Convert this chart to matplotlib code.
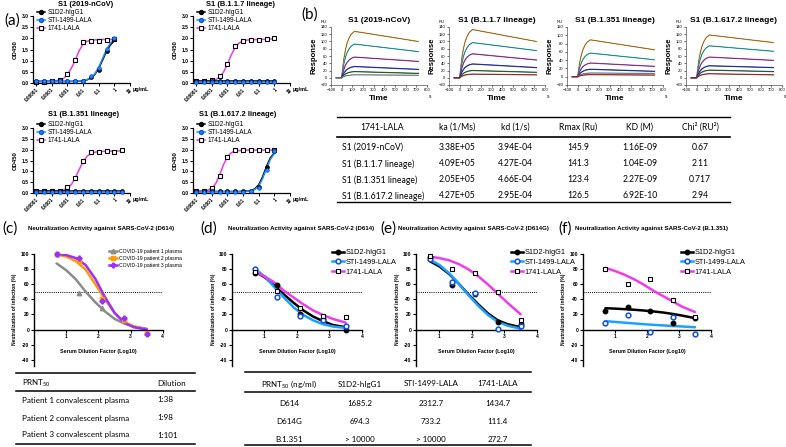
import numpy as np
import matplotlib
matplotlib.use("Agg")
import matplotlib.pyplot as plt
from matplotlib.lines import Line2D

plt.rcParams['font.family'] = ['Liberation Sans', 'DejaVu Sans']
plt.rcParams['mathtext.fontset'] = 'custom'
plt.rcParams['mathtext.rm'] = 'Lato'
plt.rcParams['mathtext.it'] = 'Lato'

# ---------------- data: panel (a) ELISA ----------------
ELISA_CONC = [1e-5, 3.16e-5, 1e-4, 3.16e-4, 1e-3, 3.16e-3, 1e-2, 3.16e-2, 0.1, 0.316, 1.0, 3.16]
ELISA_TITLES = ["S1 (2019-nCoV)", "S1 (B.1.1.7 lineage)", "S1 (B.1.351 lineage)", "S1 (B.1.617.2 lineage)"]
ELISA_XTICKS = [1e-5, 1e-4, 1e-3, 1e-2, 1e-1, 1, 10]
ELISA_XTICKLABELS = ["0.00001", "0.0001", "0.001", "0.01", "0.1", "1", "10"]
ELISA_SERIES = ["S1D2-hIgG1", "STI-1499-LALA", "1741-LALA"]

# points
A1_S1D2 = [0.07, 0.07, 0.07, 0.07, 0.07, 0.07, 0.08, 0.26, 0.58, 1.45, 1.95]
A1_STI = [0.07, 0.07, 0.07, 0.07, 0.07, 0.08, 0.08, 0.30, 0.65, 1.52, 2.03]
A1_1741 = [0.05, 0.06, 0.08, 0.15, 0.41, 1.04, 1.83, 1.90, 1.88, 1.93, 1.95]
A2_S1D2 = [0.08, 0.07, 0.07, 0.07, 0.07, 0.07, 0.07, 0.07, 0.07, 0.07, 0.08]
A2_STI = [0.06, 0.06, 0.06, 0.06, 0.06, 0.06, 0.06, 0.06, 0.06, 0.06, 0.06]
A2_1741 = [0.07, 0.07, 0.12, 0.30, 0.84, 1.64, 1.90, 1.93, 1.93, 1.95, 2.00]
A3_S1D2 = [0.08, 0.08, 0.08, 0.08, 0.08, 0.08, 0.08, 0.08, 0.08, 0.08, 0.08, 0.08]
A3_STI = [0.06, 0.06, 0.06, 0.06, 0.06, 0.06, 0.06, 0.06, 0.06, 0.06, 0.06, 0.06]
A3_1741 = [0.07, 0.07, 0.08, 0.10, 0.28, 0.69, 1.48, 1.89, 1.89, 1.92, 1.89, 1.98]
A4_S1D2 = [0.07, 0.07, 0.07, 0.07, 0.07, 0.07, 0.07, 0.08, 0.30, 1.20, 1.92]
A4_STI = [0.06, 0.06, 0.06, 0.06, 0.06, 0.06, 0.06, 0.07, 0.22, 1.05, 1.95]
A4_1741 = [0.07, 0.10, 0.22, 0.77, 1.66, 1.98, 1.97, 1.98, 1.98, 1.98, 1.99]

# fitted curves, read at half-dilution steps (flat fits given by two ends)
A1_S1D2_FIT = [0.07] * 10 + [0.08, 0.08, 0.10, 0.14, 0.22, 0.38, 0.66, 1.03, 1.42, 1.71, 1.89]
A1_STI_FIT = [0.07] * 10 + [0.08, 0.09, 0.11, 0.15, 0.24, 0.41, 0.71, 1.10, 1.50, 1.79, 1.96]
A1_1741_FIT = [0.08, 0.08, 0.08, 0.08, 0.09, 0.10, 0.13, 0.20, 0.38, 0.66, 1.02, 1.45, 1.74, 1.87,
               1.91, 1.93, 1.94, 1.95, 1.95, 1.95, 1.95]
A2_S1D2_FIT = [0.07, 0.07]
A2_STI_FIT = [0.06, 0.06]
A2_1741_FIT = [0.07, 0.07, 0.08, 0.08, 0.10, 0.15, 0.26, 0.48, 0.84, 1.26, 1.60, 1.79, 1.88, 1.92,
               1.94, 1.94, 1.95, 1.95, 1.96, 1.97, 1.98]
A3_S1D2_FIT = [0.08, 0.08]
A3_STI_FIT = [0.06, 0.06]
A3_1741_FIT = [0.07, 0.07, 0.07, 0.07, 0.07, 0.08, 0.10, 0.14, 0.22, 0.39, 0.69, 1.08, 1.44, 1.69,
               1.82, 1.88, 1.91, 1.92, 1.93, 1.93, 1.94, 1.94, 1.95]
A4_S1D2_FIT = [0.07] * 12 + [0.08, 0.09, 0.11, 0.19, 0.38, 0.75, 1.23, 1.63, 1.85]
A4_STI_FIT = [0.06] * 12 + [0.07, 0.08, 0.10, 0.16, 0.32, 0.66, 1.13, 1.56, 1.82]
A4_1741_FIT = [0.07, 0.08, 0.09, 0.13, 0.22, 0.43, 0.83, 1.31, 1.67, 1.86, 1.94, 1.96, 1.97, 1.98,
               1.98, 1.98, 1.98, 1.98, 1.98, 1.98, 1.98]

# ---------------- data: panel (b) SPR ----------------
SPR_TITLES = ["S1 (2019-nCoV)", "S1 (B.1.1.7 lineage)", "S1 (B.1.351 lineage)", "S1 (B.1.617.2 lineage)"]
SPR_YMAX = [140, 140, 120, 140]
SPR_PEAK = [[128, 93, 57, 31, 17, 8],
            [133, 97, 66, 38, 20, 10],
            [89, 57, 33, 18, 9, 5],
            [118, 88, 57, 33, 21, 11]]
SPR_END = [[100, 72, 45, 23, 12, 7],
           [100, 75, 49, 28, 15, 8],
           [65, 41, 25, 13, 8, 4],
           [97, 73, 48, 28, 17, 8]]
SPR_ASSOC_T = [0, 10, 20, 35, 50, 70, 90, 120]
SPR_ASSOC_FRAC = [0, 0.22, 0.40, 0.60, 0.74, 0.86, 0.94, 1.0]
SPR_BASE_T = [-50, 0]
SPR_END_T = 720
SPR_COLORS = [["#E8A030", "#30C8D0", "#B83CB8", "#2030C8", "#207838", "#A8A8A8"],
              ["#E8A030", "#30C8D0", "#B83CB8", "#2030C8", "#207838", "#C83030"],
              ["#E8A030", "#30C8D0", "#B83CB8", "#2030C8", "#A8A8A8", "#C83030"],
              ["#E8A030", "#30C8D0", "#B83CB8", "#2030C8", "#207838", "#C83030"]]

KIN_HEAD = ["1741-LALA", "ka (1/Ms)", "kd (1/s)", "Rmax (Ru)", "KD (M)", "Chi² (RU²)"]
KIN_ROWS = ["S1 (2019-nCoV)", "S1 (B.1.1.7 lineage)", "S1 (B.1.351 lineage)", "S1 (B.1.617.2 lineage)"]
KIN_KA = ["3.38E+05", "4.09E+05", "2.05E+05", "4.27E+05"]
KIN_KD = ["3.94E-04", "4.27E-04", "4.66E-04", "2.95E-04"]
KIN_RMAX = ["145.9", "141.3", "123.4", "126.5"]
KIN_KDM = ["1.16E-09", "1.04E-09", "2.27E-09", "6.92E-10"]
KIN_CHI2 = ["0.67", "2.11", "0.717", "2.94"]

# ---------------- data: panels (c)-(f) neutralization ----------------
DIL_LOG = [0.7, 1.4, 2.1, 2.8, 3.5]
FIT_LOG = [0.7, 1.0, 1.3, 1.6, 1.9, 2.2, 2.5, 2.8, 3.1, 3.5]

C_LABELS = ["COVID-19 patient 1 plasma", "COVID-19 patient 2 plasma", "COVID-19 patient 3 plasma"]
C_P1 = [99, 48, 28, 12, -5]
C_P2 = [100, 90, 40, 13, -5]
C_P3 = [99, 94, 37, 15, -6]
C_P1_FIT = [87, 78, 66, 50, 36, 24, 14, 8, 4, 1]
C_P2_FIT = [99, 96, 90, 79, 60, 40, 22, 10, 4, 0]
C_P3_FIT = [100, 98, 94, 85, 67, 43, 22, 9, 3, 0]

D_S1D2 = [74, 59, 20, 14, 0]
D_STI = [80, 43, 18, 13, 4]
D_1741 = [76, 51, 28, 18, 17]
D_S1D2_FIT = [76, 69, 58, 46, 35, 25, 17, 11, 6, 3]
D_STI_FIT = [80, 70, 56, 42, 29, 19, 12, 7, 4, 2]
D_1741_FIT = [76, 70, 62, 51, 42, 33, 25, 19, 14, 9]

E_S1D2 = [95, 59, 47, 10, 7]
E_STI = [93, 62, 48, 1, 5]
E_1741 = [97, 80, 75, 49, 12]
E_S1D2_FIT = [90, 83, 73, 60, 46, 33, 21, 12, 7, 3]
E_STI_FIT = [92, 85, 74, 60, 45, 31, 19, 10, 5, 1]
E_1741_FIT = [96, 94, 91, 86, 79, 70, 59, 47, 35, 20]

F_S1D2 = [24, 29, 24, 9, 15]
F_STI = [9, 19, -3, 17, -6]
F_1741 = [80, 60, 67, 39, 17]
F_S1D2_FIT = [28, 27.5, 26.8, 26, 25, 23.8, 22.4, 20.5, 18.3, 15]
F_STI_FIT = [11, 10, 9, 8, 7, 6.2, 5.4, 4.6, 4, 3]
F_1741_FIT = [81, 77, 72, 66, 59, 51, 44, 37, 30, 23]

PRNT_PATIENTS = ["Patient 1 convalescent plasma", "Patient 2 convalescent plasma", "Patient 3 convalescent plasma"]
PRNT_DILUTION = ["1:38", "1:98", "1:101"]
PRNT_VARIANTS = ["D614", "D614G", "B.1.351"]
PRNT_S1D2 = ["1685.2", "694.3", "> 10000"]
PRNT_STI = ["2312.7", "733.2", "> 10000"]
PRNT_1741 = ["1434.7", "111.4", "272.7"]

# ---------------- figure ----------------
W, H = 786, 447
fig = plt.figure(figsize=(W / 100, H / 100), dpi=100)
TABLE_FONT = ['Lato', 'DejaVu Sans']


def px_axes(x0, y0, x1, y1):
    return fig.add_axes([x0 / W, 1 - y1 / H, (x1 - x0) / W, (y1 - y0) / H])


def ftext(x, y, s, **kw):
    kw.setdefault('va', 'center')
    return fig.text(x / W, 1 - y / H, s, **kw)


def hline(x0, x1, y, lw=1.0):
    fig.add_artist(Line2D([x0 / W, x1 / W], [1 - y / H, 1 - y / H], color='black', lw=lw,
                          transform=fig.transFigure))


BLACK = '#000000'
BLUE = '#1E8CFF'
BLUE_EDGE = '#1050E0'
MAGENTA = '#F03CE6'


# ---------- panel (a) ----------
def elisa(rect, title, title_xy, pts, fits):
    n = len(pts[0])
    conc = ELISA_CONC[:n]
    ax = px_axes(*rect)
    ax.set_xscale('log')
    ax.set_xlim(10 ** -5.2, 10)
    ax.set_ylim(0, 3)
    grid = np.logspace(np.log10(conc[0]), np.log10(conc[-1]), 2 * n - 1)
    order = [2, 0, 1]
    colors = [BLACK, BLUE, MAGENTA]
    for i in order:
        f = fits[i]
        fx = grid if len(f) == len(grid) else [conc[0], conc[-1]]
        ax.plot(fx, f, color=colors[i], lw=1.1, zorder=2, solid_capstyle='butt')
    ax.plot(conc, pts[2], ls='none', marker='s', ms=3.0, mfc='white', mec='black', mew=0.8,
            zorder=3, clip_on=False)
    ax.plot(conc, pts[0], ls='none', marker='o', ms=2.8, mfc='black', mec='black', mew=0.5,
            zorder=4, clip_on=False)
    ax.plot(conc, pts[1], ls='none', marker='o', ms=2.6, mfc=BLUE, mec=BLUE_EDGE, mew=0.5,
            zorder=5, clip_on=False)
    for s in ['top', 'right']:
        ax.spines[s].set_visible(False)
    for s in ['left', 'bottom']:
        ax.spines[s].set_linewidth(0.9)
    ax.set_yticks([0, 0.5, 1.0, 1.5, 2.0, 2.5, 3.0])
    ax.set_yticklabels(["0.0", "0.5", "1.0", "1.5", "2.0", "2.5", "3.0"], fontsize=3.6, fontweight='bold')
    ax.set_xticks(ELISA_XTICKS)
    ax.set_xticklabels(ELISA_XTICKLABELS, fontsize=3.4, fontweight='bold', rotation=45,
                       ha='right', rotation_mode='anchor')
    ax.minorticks_off()
    ax.tick_params(length=2, width=0.7, pad=1)
    ax.set_ylabel("OD450", fontsize=4.2, fontweight='bold', labelpad=3)
    ftext(title_xy[0], title_xy[1], title, fontsize=5.4, fontweight='bold', ha='center')
    ftext(rect[2] + 3, rect[3] + 6, "µg/mL", fontsize=4.0, fontweight='bold', ha='left')
    handles = [Line2D([], [], color=BLACK, lw=1.1, marker='o', ms=2.8, mfc='black', mec='black'),
               Line2D([], [], color=BLUE, lw=1.1, marker='o', ms=2.8, mfc=BLUE, mec=BLUE_EDGE),
               Line2D([], [], color=MAGENTA, lw=1.1, marker='s', ms=3, mfc='white', mec='black', mew=0.8)]
    ax.legend(handles, ELISA_SERIES, loc='upper left',
              bbox_to_anchor=((rect[0] + 4) / W, 1 - (rect[1] - 7) / H), bbox_transform=fig.transFigure,
              frameon=False, fontsize=4.7, handlelength=1.3, handletextpad=0.35, labelspacing=0.18,
              borderpad=0, borderaxespad=0)
    return ax


elisa((33, 16, 130, 83), ELISA_TITLES[0], (86, 5), [A1_S1D2, A1_STI, A1_1741],
      [A1_S1D2_FIT, A1_STI_FIT, A1_1741_FIT])
elisa((193, 16, 290, 83), ELISA_TITLES[1], (240, 5), [A2_S1D2, A2_STI, A2_1741],
      [A2_S1D2_FIT, A2_STI_FIT, A2_1741_FIT])
elisa((33, 128, 130, 193), ELISA_TITLES[2], (84, 115), [A3_S1D2, A3_STI, A3_1741],
      [A3_S1D2_FIT, A3_STI_FIT, A3_1741_FIT])
elisa((193, 128, 290, 193), ELISA_TITLES[3], (238, 115), [A4_S1D2, A4_STI, A4_1741],
      [A4_S1D2_FIT, A4_STI_FIT, A4_1741_FIT])

ftext(12, 21, "(a)", fontsize=11, ha='center', family=TABLE_FONT)
ftext(310, 15, "(b)", fontsize=11, ha='center', family=TABLE_FONT)

# ---------- panel (b) sensorgrams ----------
SPR_X0 = [331, 449, 567, 686]
for k in range(4):
    x0 = SPR_X0[k]
    ax = px_axes(x0, 27, x0 + 96, 85)
    ax.set_xlim(-100, 800)
    ax.set_ylim(-20, SPR_YMAX[k])
    for j in range(len(SPR_PEAK[k])):
        t = SPR_BASE_T + SPR_ASSOC_T[1:] + [SPR_END_T]
        v = [0, 0] + [SPR_PEAK[k][j] * f for f in SPR_ASSOC_FRAC[1:]] + [SPR_END[k][j]]
        ax.plot(t, v, color=SPR_COLORS[k][j], lw=0.9)
        ax.plot(t, v, color='#303030', lw=0.3)
    for s in ['top', 'right']:
        ax.spines[s].set_visible(False)
    for s in ['left', 'bottom']:
        ax.spines[s].set_linewidth(0.5)
        ax.spines[s].set_color('#555555')
    ax.set_xticks(range(-100, 801, 100))
    ax.set_yticks(range(-20, SPR_YMAX[k] + 1, 20))
    ax.tick_params(labelsize=3.0, length=1.5, width=0.4, pad=1)
    ax.set_xlabel("Time", fontsize=6, fontweight='bold', labelpad=2)
    ax.set_ylabel("Response", fontsize=5.5, fontweight='bold', labelpad=2)
    ftext(x0 + 48, 20, SPR_TITLES[k], fontsize=6, fontweight='bold', ha='center')
    ftext(x0 - 7, 22, "RU", fontsize=3, ha='center')
    ftext(x0 + 99, 97, "s", fontsize=3.5, ha='center')

# ---------- table (b) ----------
KIN_X = [382, 457, 515, 578, 640, 700]
hline(337, 730, 117, 1.0)
hline(337, 730, 137, 1.2)
hline(337, 730, 202, 1.0)
for c, h in enumerate(KIN_HEAD):
    ftext(KIN_X[c], 127, h, fontsize=6.2, ha='center', family=TABLE_FONT)
cols = [KIN_KA, KIN_KD, KIN_RMAX, KIN_KDM, KIN_CHI2]
ROW_Y = [147, 164, 180, 196]
for r in range(4):
    ftext(342, ROW_Y[r], KIN_ROWS[r], fontsize=6.2, ha='left', family=TABLE_FONT)
    for c in range(5):
        ftext(KIN_X[c + 1], ROW_Y[r], cols[c][r], fontsize=6.2, ha='center', family=TABLE_FONT)


# ---------- panels (c)-(f) ----------
def neut(x_axis, x_per, xmin, title, title_x, label, label_x, series, legend_x, legend_fs):
    x0 = x_axis
    x1 = x_axis + (4 - xmin) * x_per
    ax = px_axes(x0, 253.5, x1, 366)
    ax.set_xlim(xmin, 4)
    ax.set_ylim(-48, 100)
    ax.axhline(50, ls=(0, (1, 1.2)), color='black', lw=0.7, zorder=1)
    handles = []
    labels = []
    for s in series:
        ax.plot(FIT_LOG, s['fit'], color=s['color'], lw=1.8, zorder=2, solid_capstyle='round')
        ax.plot(DIL_LOG, s['pts'], ls='none', zorder=3, clip_on=False, **s['mk'])
        handles.append(Line2D([], [], color=s['color'], lw=1.8, **s['mk']))
        labels.append(s['label'])
    for sp in ['top', 'right']:
        ax.spines[sp].set_visible(False)
    ax.spines['bottom'].set_position(('data', 0))
    for sp in ['left', 'bottom']:
        ax.spines[sp].set_linewidth(1.0)
    ax.set_xticks([1, 2, 3, 4])
    ax.set_xticklabels(["1", "2", "3", "4"], fontsize=3.6, fontweight='bold')
    ax.set_yticks(range(-40, 101, 20))
    ax.set_yticklabels([str(v) for v in range(-40, 101, 20)], fontsize=3.6, fontweight='bold')
    ax.tick_params(length=2, width=0.8, pad=1.5)
    ftext((x0 + x1) / 2, 352, "Serum Dilution Factor (Log10)", fontsize=3.8, fontweight='bold', ha='center')
    ftext(x0 - 19, 309, "Neutralization of infection (%)", fontsize=3.6, fontweight='bold',
          ha='center', rotation=90)
    ftext(title_x, 229, title, fontsize=4.4, fontweight='bold', ha='left')
    ftext(label_x, 229, label, fontsize=11, ha='center', family=TABLE_FONT)
    ax.legend(handles, labels, loc='upper left', bbox_to_anchor=(legend_x / W, 1 - 249 / H),
              bbox_transform=fig.transFigure, frameon=False, fontsize=legend_fs, handlelength=1.6,
              handletextpad=0.25, labelspacing=0.35, borderpad=0, borderaxespad=0)
    return ax


GRAY = '#8C8C8C'
ORANGE = '#FF9A00'
PURPLE = '#9B30FF'
mk_s1d2 = dict(marker='o', ms=3.2, mfc='black', mec='black')
mk_sti = dict(marker='o', ms=3.4, mfc='white', mec=BLUE_EDGE, mew=1.1)
mk_1741 = dict(marker='s', ms=3.4, mfc='white', mec='black', mew=0.8)

neut(34, 32.2, 0, "Neutralization Activity against SARS-CoV-2 (D614)", 28, "(c)", 10,
     [dict(pts=C_P1, fit=C_P1_FIT, color=GRAY, label=C_LABELS[0], mk=dict(marker='^', ms=3.2, mfc=GRAY, mec=GRAY)),
      dict(pts=C_P2, fit=C_P2_FIT, color=ORANGE, label=C_LABELS[1], mk=dict(marker='s', ms=3.2, mfc=ORANGE, mec=ORANGE)),
      dict(pts=C_P3, fit=C_P3_FIT, color=PURPLE, label=C_LABELS[2], mk=dict(marker='P', ms=3.4, mfc=PURPLE, mec=PURPLE))],
     109, 3.7)


def ab_series(s1, s2, s3, f1, f2, f3):
    return [dict(pts=s1, fit=f1, color=BLACK, label="S1D2-hIgG1", mk=mk_s1d2),
            dict(pts=s2, fit=f2, color='#1AA0FF', label="STI-1499-LALA", mk=mk_sti),
            dict(pts=s3, fit=f3, color=MAGENTA, label="1741-LALA", mk=mk_1741)]


neut(232, 32.5, 0, "Neutralization Activity against SARS-CoV-2 (D614)", 228, "(d)", 209,
     ab_series(D_S1D2, D_STI, D_1741, D_S1D2_FIT, D_STI_FIT, D_1741_FIT), 332, 5.3)
neut(416, 32.5, 0.28, "Neutralization Activity against SARS-CoV-2 (D614G)", 398, "(e)", 388,
     ab_series(E_S1D2, E_STI, E_1741, E_S1D2_FIT, E_STI_FIT, E_1741_FIT), 511, 5.3)
neut(583, 32.0, 0, "Neutralization Activity against SARS-CoV-2 (B.1.351)", 575, "(f)", 565,
     ab_series(F_S1D2, F_STI, F_1741, F_S1D2_FIT, F_STI_FIT, F_1741_FIT), 681, 5.3)

# ---------- table (c) ----------
hline(16, 195, 373, 1.1)
hline(16, 195, 391, 1.1)
hline(16, 195, 444, 1.1)
ftext(22, 383, "PRNT$_{50}$", fontsize=5.8, ha='left', family=TABLE_FONT)
ftext(157, 383, "Dilution", fontsize=5.8, ha='left', family=TABLE_FONT)
for r, yy in enumerate([400, 418, 435]):
    ftext(22, yy, PRNT_PATIENTS[r], fontsize=5.8, ha='left', family=TABLE_FONT)
    ftext(157, yy, PRNT_DILUTION[r], fontsize=5.8, ha='left', family=TABLE_FONT)

# ---------- table (d) ----------
hline(245, 531, 372, 1.1)
hline(245, 531, 392, 1.1)
hline(245, 531, 445, 1.1)
TD_X = [289, 360, 431, 498]
for c, h in enumerate(["PRNT$_{50}$ (ng/ml)", "S1D2-hIgG1", "STI-1499-LALA", "1741-LALA"]):
    ftext(TD_X[c], 384, h, fontsize=5.8, ha='center', family=TABLE_FONT)
for r, yy in enumerate([404, 421, 439]):
    for c, col in enumerate([PRNT_VARIANTS, PRNT_S1D2, PRNT_STI, PRNT_1741]):
        ftext(TD_X[c], yy, col[r], fontsize=5.8, ha='center', family=TABLE_FONT)

fig.savefig("out.png", dpi=100)
